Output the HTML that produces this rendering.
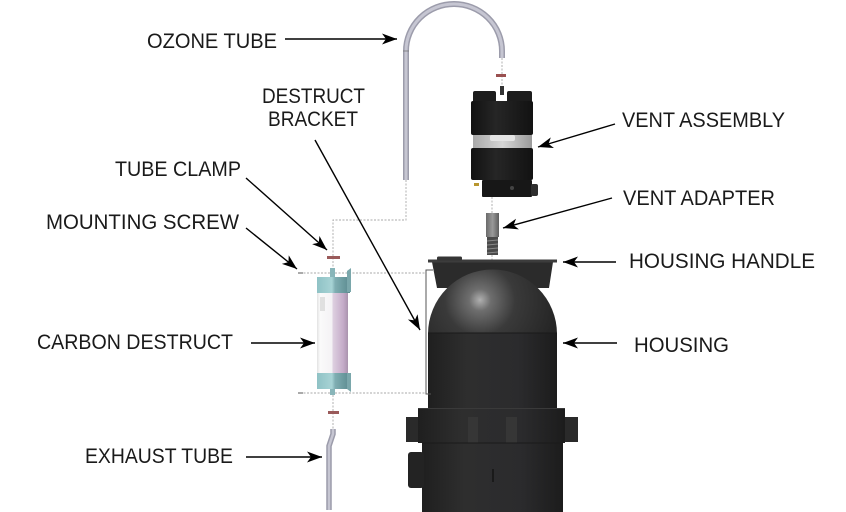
<!DOCTYPE html>
<html>
<head>
<meta charset="utf-8">
<style>
html,body{margin:0;padding:0;background:#fff;}
svg{display:block;}
text{font-family:"Liberation Sans","DejaVu Sans",sans-serif;font-size:21px;fill:#1a1a1a;}
</style>
</head>
<body>
<svg width="846" height="512" viewBox="0 0 846 512" xmlns="http://www.w3.org/2000/svg">
<defs>
  <marker id="ah" markerUnits="userSpaceOnUse" markerWidth="18" markerHeight="12" refX="15" refY="5.5" orient="auto">
    <path d="M0,0 L15,5.5 L0,11 L4,5.5 z" fill="#000"/>
  </marker>
  <radialGradient id="dome" cx="480" cy="300" r="78" gradientUnits="userSpaceOnUse">
    <stop offset="0" stop-color="#b0b0b0"/>
    <stop offset="0.14" stop-color="#6e6e6e"/>
    <stop offset="0.45" stop-color="#3a3a3a"/>
    <stop offset="1" stop-color="#252525"/>
  </radialGradient>
  <linearGradient id="body" x1="0" x2="1" y1="0" y2="0">
    <stop offset="0" stop-color="#1f1f1f"/>
    <stop offset="0.3" stop-color="#2e2e2e"/>
    <stop offset="0.7" stop-color="#2b2b2d"/>
    <stop offset="1" stop-color="#1c1c1c"/>
  </linearGradient>
  <linearGradient id="vent" x1="0" x2="1" y1="0" y2="0">
    <stop offset="0" stop-color="#111"/>
    <stop offset="0.4" stop-color="#262626"/>
    <stop offset="1" stop-color="#121212"/>
  </linearGradient>
  <linearGradient id="win" x1="0" x2="1" y1="0" y2="0">
    <stop offset="0" stop-color="#a8a8a8"/>
    <stop offset="0.5" stop-color="#d6d6d6"/>
    <stop offset="1" stop-color="#9a9a9a"/>
  </linearGradient>
  <linearGradient id="adp" x1="0" x2="1" y1="0" y2="0">
    <stop offset="0" stop-color="#6a6a6a"/>
    <stop offset="0.5" stop-color="#9a9a9a"/>
    <stop offset="1" stop-color="#5e5e5e"/>
  </linearGradient>
  <linearGradient id="cap" x1="0" x2="1" y1="0" y2="0">
    <stop offset="0" stop-color="#8fc2c5"/>
    <stop offset="0.45" stop-color="#a7d3d5"/>
    <stop offset="0.55" stop-color="#7faeb2"/>
    <stop offset="1" stop-color="#5b8a8f"/>
  </linearGradient>
  <linearGradient id="tube" x1="0" x2="1" y1="0" y2="0">
    <stop offset="0" stop-color="#e2e2e2"/>
    <stop offset="0.1" stop-color="#fafafa"/>
    <stop offset="0.48" stop-color="#f4f2f5"/>
    <stop offset="0.52" stop-color="#ddcfe0"/>
    <stop offset="0.85" stop-color="#c4abc8"/>
    <stop offset="1" stop-color="#a993ad"/>
  </linearGradient>
</defs>

<!-- dashed construction lines -->
<g stroke="#a8a8a8" stroke-width="0.9" fill="none" stroke-dasharray="2,1.5">
  <path d="M406,180 L406,220 L333,220 L333,268"/>
  <path d="M502,58 L502,92"/>
  <path d="M492,197 L492,213"/>
  <path d="M492,255 L492,260"/>
  <path d="M333,395 L333,429"/>
  <path d="M300,273 L426,273"/>
  <path d="M300,393 L426,393"/>
</g>

<!-- ozone tube -->
<path d="M406,180 L406,51 A48,47 0 0 1 502,51 L502,58" fill="none" stroke="#9c9cab" stroke-width="6"/>
<path d="M406,180 L406,51 A48,47 0 0 1 502,51 L502,58" fill="none" stroke="#c6c6d2" stroke-width="3"/>
<line x1="403" y1="51" x2="409" y2="51" stroke="#777" stroke-width="0.8"/>

<!-- red clamps -->
<rect x="496" y="74" width="10" height="3" fill="#9a5050"/>
<rect x="327" y="256" width="13" height="3" fill="#9a5a5a"/>
<rect x="328" y="411" width="11" height="3" fill="#9a5a5a"/>

<!-- vent assembly -->
<rect x="473" y="91" width="23" height="12" rx="2" fill="#1c1c1c"/>
<rect x="507" y="91" width="25" height="12" rx="2" fill="#1c1c1c"/>
<rect x="500" y="86" width="4" height="9" fill="#333"/>
<rect x="471" y="101" width="62" height="34" rx="2" fill="url(#vent)"/>
<rect x="473" y="135" width="59" height="13" fill="url(#win)"/>
<rect x="490" y="135" width="25" height="6" rx="2" fill="#e4e4e4"/>
<rect x="471" y="148" width="62" height="32" rx="2" fill="url(#vent)"/>
<rect x="482" y="180" width="50" height="17" rx="1" fill="#171717"/>
<rect x="531" y="184" width="7" height="12" rx="2" fill="#2e2e2e"/>
<circle cx="512" cy="188" r="2" fill="#444"/>
<rect x="474" y="183" width="5" height="3" fill="#b8962e"/>

<!-- vent adapter -->
<rect x="486" y="213" width="13" height="24" fill="url(#adp)"/>
<rect x="487" y="237" width="11" height="18" fill="#4a4a4a"/>
<g stroke="#888" stroke-width="1">
  <line x1="487" y1="241" x2="498" y2="240"/>
  <line x1="487" y1="245" x2="498" y2="244"/>
  <line x1="487" y1="249" x2="498" y2="248"/>
  <line x1="487" y1="253" x2="498" y2="252"/>
</g>

<!-- housing -->
<path d="M432,262 L553,262 L549,288 L437,288 z" fill="#2b2b2b"/>
<rect x="428" y="259.5" width="129" height="3" fill="#3c3c3c"/>
<rect x="437" y="256.5" width="25" height="4" rx="1.5" fill="#353535"/>
<path d="M428,334 A64.5,64.5 0 0 1 557,334 z" fill="url(#dome)"/>
<rect x="428" y="333" width="129" height="76" fill="url(#body)"/>
<line x1="428" y1="333" x2="557" y2="333" stroke="#1a1a1a" stroke-width="1"/>
<rect x="406" y="417" width="13" height="25" fill="#2a2a2a"/>
<rect x="565" y="417" width="13" height="25" fill="#2a2a2a"/>
<rect x="418" y="408" width="147" height="35" fill="url(#body)"/>
<line x1="418" y1="408.5" x2="565" y2="408.5" stroke="#3a3a3a" stroke-width="1"/>
<rect x="468" y="417" width="10" height="26" fill="#363636"/>
<rect x="506" y="417" width="11" height="26" fill="#363636"/>
<rect x="422" y="443" width="141" height="69" fill="url(#body)"/>
<line x1="422" y1="443" x2="563" y2="443" stroke="#1a1a1a" stroke-width="1"/>
<rect x="408" y="452" width="16" height="36" rx="3" fill="#232323"/>
<line x1="493" y1="469" x2="493" y2="482" stroke="#0e0e0e" stroke-width="1.2"/>

<!-- destruct bracket -->
<path d="M433,270 L426,270 L426,394 L431,394" fill="none" stroke="#555" stroke-width="1"/>

<!-- carbon destruct -->
<rect x="330" y="268" width="5" height="9" fill="#88b5b9"/>
<rect x="317" y="293" width="31" height="80" fill="url(#tube)"/>
<rect x="320" y="297" width="5" height="14" fill="#e0e0e0"/>
<rect x="317" y="277" width="33" height="16" fill="url(#cap)"/>
<path d="M347,277 L347,271 L351,268 L351,292 L347,292 z" fill="#7aa7ab"/>
<rect x="317" y="373" width="33" height="16" fill="url(#cap)"/>
<path d="M347,373 L351,373 L351,392 L347,389 z" fill="#7aa7ab"/>
<rect x="330" y="389" width="5" height="6" fill="#88b5b9"/>
<rect x="298" y="272" width="5" height="2" fill="#aaa"/>
<rect x="298" y="392" width="5" height="2" fill="#aaa"/>

<!-- exhaust tube -->
<path d="M333,429 L333,434 L329,446 L329,510" fill="none" stroke="#9c9cab" stroke-width="5.5"/>
<path d="M333,429 L333,434 L329,446 L329,510" fill="none" stroke="#c6c6d2" stroke-width="2.5"/>

<!-- leader arrows -->
<g stroke="#000" stroke-width="1.4" fill="none" marker-end="url(#ah)">
  <line x1="285" y1="39" x2="397" y2="39"/>
  <line x1="315" y1="140" x2="420" y2="330"/>
  <line x1="615" y1="124" x2="538" y2="147"/>
  <line x1="246" y1="178" x2="327" y2="250"/>
  <line x1="612" y1="198" x2="503" y2="228"/>
  <line x1="246" y1="228" x2="297" y2="269"/>
  <line x1="616" y1="262" x2="563" y2="262"/>
  <line x1="251" y1="343" x2="315" y2="343"/>
  <line x1="617" y1="343" x2="563" y2="343"/>
  <line x1="246" y1="457" x2="322" y2="457"/>
</g>

<!-- labels -->
<text x="147" y="48" textLength="130" lengthAdjust="spacingAndGlyphs">OZONE TUBE</text>
<text x="262" y="103" textLength="103" lengthAdjust="spacingAndGlyphs">DESTRUCT</text>
<text x="268" y="126" textLength="90" lengthAdjust="spacingAndGlyphs">BRACKET</text>
<text x="622" y="127" textLength="163" lengthAdjust="spacingAndGlyphs">VENT ASSEMBLY</text>
<text x="115" y="176" textLength="126" lengthAdjust="spacingAndGlyphs">TUBE CLAMP</text>
<text x="623" y="205" textLength="152" lengthAdjust="spacingAndGlyphs">VENT ADAPTER</text>
<text x="46" y="229" textLength="193" lengthAdjust="spacingAndGlyphs">MOUNTING SCREW</text>
<text x="629" y="268" textLength="186" lengthAdjust="spacingAndGlyphs">HOUSING HANDLE</text>
<text x="37" y="349" textLength="196" lengthAdjust="spacingAndGlyphs">CARBON DESTRUCT</text>
<text x="634" y="352" textLength="95" lengthAdjust="spacingAndGlyphs">HOUSING</text>
<text x="85" y="463" textLength="148" lengthAdjust="spacingAndGlyphs">EXHAUST TUBE</text>
</svg>
</body>
</html>
